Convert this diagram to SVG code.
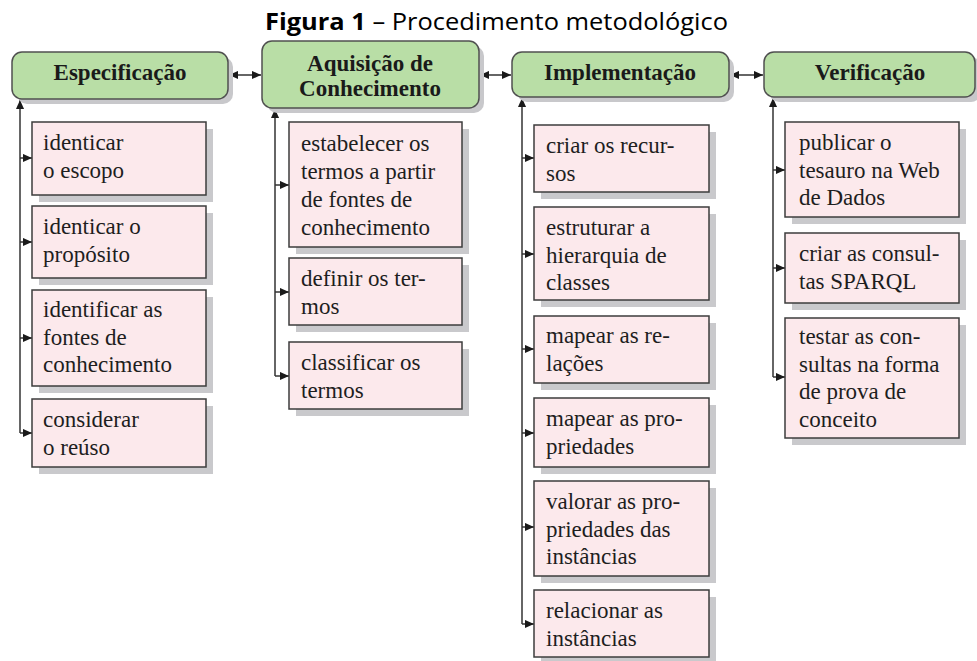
<svg xmlns="http://www.w3.org/2000/svg" width="977" height="661" viewBox="0 0 977 661">
<defs>
<marker id="ah" viewBox="0 0 10 10" refX="10" refY="5" markerWidth="11" markerHeight="9" markerUnits="userSpaceOnUse" orient="auto-start-reverse">
<path d="M0,0.5 L10,5 L0,9.5 z" fill="#1a1a1a"/>
</marker>
<style>
.hdr{fill:#b9dea6;stroke:#505050;stroke-width:1.5}
.hsh{fill:#c8c8cb}
.box{fill:#fce9ec;stroke:#3c3c3c;stroke-width:1.5}
.sh{fill:#c9c9cc}
.ht{font-family:"Liberation Serif","Times New Roman",serif;font-weight:bold;font-size:23px;fill:#1a1a1a;text-anchor:middle}
.bt{font-family:"Liberation Serif","Times New Roman",serif;font-size:23px;fill:#1e1e1e}
.ln{fill:none;stroke:#333;stroke-width:1.5}
.title{font-family:"Open Sans","Liberation Sans",Arial,sans-serif;font-size:23px;fill:#000}
</style>
</defs>
<rect width="977" height="661" fill="#fff"/>
<text class="title" x="265" y="30" textLength="463" lengthAdjust="spacingAndGlyphs"><tspan font-weight="bold">Figura 1</tspan> – Procedimento metodológico</text>

<g id="connectors">
<path class="ln" d="M229,75 H261" marker-start="url(#ah)" marker-end="url(#ah)"/>
<path class="ln" d="M480,75 H511" marker-start="url(#ah)" marker-end="url(#ah)"/>
<path class="ln" d="M730,75 H763" marker-start="url(#ah)" marker-end="url(#ah)"/>
<path class="ln" d="M20,433 V100" marker-end="url(#ah)"/>
<path class="ln" d="M20,158 H32" marker-end="url(#ah)"/>
<path class="ln" d="M20,242 H32" marker-end="url(#ah)"/>
<path class="ln" d="M20,338 H32" marker-end="url(#ah)"/>
<path class="ln" d="M20,433 H32" marker-end="url(#ah)"/>
<path class="ln" d="M275,376 V109" marker-end="url(#ah)"/>
<path class="ln" d="M275,185 H289" marker-end="url(#ah)"/>
<path class="ln" d="M275,292 H289" marker-end="url(#ah)"/>
<path class="ln" d="M275,376 H289" marker-end="url(#ah)"/>
<path class="ln" d="M522,624 V98" marker-end="url(#ah)"/>
<path class="ln" d="M522,158 H534" marker-end="url(#ah)"/>
<path class="ln" d="M522,254 H534" marker-end="url(#ah)"/>
<path class="ln" d="M522,349 H534" marker-end="url(#ah)"/>
<path class="ln" d="M522,433 H534" marker-end="url(#ah)"/>
<path class="ln" d="M522,527 H534" marker-end="url(#ah)"/>
<path class="ln" d="M522,624 H534" marker-end="url(#ah)"/>
<path class="ln" d="M773,377 V98" marker-end="url(#ah)"/>
<path class="ln" d="M773,170 H785" marker-end="url(#ah)"/>
<path class="ln" d="M773,268 H785" marker-end="url(#ah)"/>
<path class="ln" d="M773,377 H785" marker-end="url(#ah)"/>
</g>

<g id="especificacao">
<rect class="hsh" x="17" y="57" width="216" height="47" rx="10"/>
<rect class="hdr" x="12" y="52" width="216" height="47" rx="10"/>
<text class="ht" x="120" y="80">Especificação</text>
</g>
<g id="aquisicao">
<rect class="hsh" x="267" y="46" width="217" height="67" rx="10"/>
<rect class="hdr" x="262" y="41" width="217" height="67" rx="10"/>
<text class="ht" x="370" y="71">Aquisição de</text>
<text class="ht" x="370" y="96">Conhecimento</text>
</g>
<g id="implementacao">
<rect class="hsh" x="517" y="57" width="217" height="45" rx="10"/>
<rect class="hdr" x="512" y="52" width="217" height="45" rx="10"/>
<text class="ht" x="620" y="80">Implementação</text>
</g>
<g id="verificacao">
<rect class="hsh" x="769" y="57" width="212" height="45" rx="10"/>
<rect class="hdr" x="764" y="52" width="211" height="45" rx="10"/>
<text class="ht" x="870" y="80">Verificação</text>
</g>

<g id="e1"><rect class="sh" x="39" y="129" width="174" height="73"/><rect class="box" x="32" y="122" width="174" height="73"/>
<text class="bt" x="43" y="150">identicar</text><text class="bt" x="43" y="177.5">o escopo</text></g>
<g id="e2"><rect class="sh" x="39" y="213" width="174" height="72"/><rect class="box" x="32" y="206" width="174" height="72"/>
<text class="bt" x="43" y="234">identicar o</text><text class="bt" x="43" y="261.5">propósito</text></g>
<g id="e3"><rect class="sh" x="39" y="297" width="174" height="96"/><rect class="box" x="32" y="290" width="174" height="96"/>
<text class="bt" x="43" y="317">identificar as</text><text class="bt" x="43" y="344.5">fontes de</text><text class="bt" x="43" y="372">conhecimento</text></g>
<g id="e4"><rect class="sh" x="39" y="406" width="174" height="68"/><rect class="box" x="32" y="399" width="174" height="68"/>
<text class="bt" x="43" y="427">considerar</text><text class="bt" x="43" y="454.5">o reúso</text></g>

<g id="a1"><rect class="sh" x="296" y="129" width="173" height="125"/><rect class="box" x="289" y="122" width="173" height="125"/>
<text class="bt" x="301" y="151">estabelecer os</text><text class="bt" x="301" y="179">termos a partir</text><text class="bt" x="301" y="207">de fontes de</text><text class="bt" x="301" y="235">conhecimento</text></g>
<g id="a2"><rect class="sh" x="296" y="265" width="173" height="67"/><rect class="box" x="289" y="258" width="173" height="67"/>
<text class="bt" x="301" y="286">definir os ter-</text><text class="bt" x="301" y="313.5">mos</text></g>
<g id="a3"><rect class="sh" x="296" y="349" width="173" height="67"/><rect class="box" x="289" y="342" width="173" height="67"/>
<text class="bt" x="301" y="370">classificar os</text><text class="bt" x="301" y="397.5">termos</text></g>

<g id="i1"><rect class="sh" x="541" y="132" width="175" height="67"/><rect class="box" x="534" y="125" width="175" height="67"/>
<text class="bt" x="546" y="153">criar os recur-</text><text class="bt" x="546" y="180.5">sos</text></g>
<g id="i2"><rect class="sh" x="541" y="214" width="175" height="93"/><rect class="box" x="534" y="207" width="175" height="93"/>
<text class="bt" x="546" y="235">estruturar a</text><text class="bt" x="546" y="262.5">hierarquia de</text><text class="bt" x="546" y="290">classes</text></g>
<g id="i3"><rect class="sh" x="541" y="323" width="175" height="67"/><rect class="box" x="534" y="316" width="175" height="67"/>
<text class="bt" x="546" y="343">mapear as re-</text><text class="bt" x="546" y="370.5">lações</text></g>
<g id="i4"><rect class="sh" x="541" y="405" width="175" height="69"/><rect class="box" x="534" y="398" width="175" height="69"/>
<text class="bt" x="546" y="426">mapear as pro-</text><text class="bt" x="546" y="453.5">priedades</text></g>
<g id="i5"><rect class="sh" x="541" y="488" width="175" height="95"/><rect class="box" x="534" y="481" width="175" height="95"/>
<text class="bt" x="546" y="509">valorar as pro-</text><text class="bt" x="546" y="536.5">priedades das</text><text class="bt" x="546" y="564">instâncias</text></g>
<g id="i6"><rect class="sh" x="541" y="597" width="175" height="67"/><rect class="box" x="534" y="590" width="175" height="67"/>
<text class="bt" x="546" y="618">relacionar as</text><text class="bt" x="546" y="645.5">instâncias</text></g>

<g id="v1"><rect class="sh" x="792" y="129" width="174" height="95"/><rect class="box" x="785" y="122" width="174" height="95"/>
<text class="bt" x="799" y="150">publicar o</text><text class="bt" x="799" y="177.5">tesauro na Web</text><text class="bt" x="799" y="205">de Dados</text></g>
<g id="v2"><rect class="sh" x="792" y="240" width="174" height="70"/><rect class="box" x="785" y="233" width="174" height="70"/>
<text class="bt" x="799" y="261">criar as consul-</text><text class="bt" x="799" y="288.5">tas SPARQL</text></g>
<g id="v3"><rect class="sh" x="792" y="325" width="174" height="120"/><rect class="box" x="785" y="318" width="174" height="120"/>
<text class="bt" x="799" y="344">testar as con-</text><text class="bt" x="799" y="371.5">sultas na forma</text><text class="bt" x="799" y="399">de prova de</text><text class="bt" x="799" y="426.5">conceito</text></g>
</svg>
